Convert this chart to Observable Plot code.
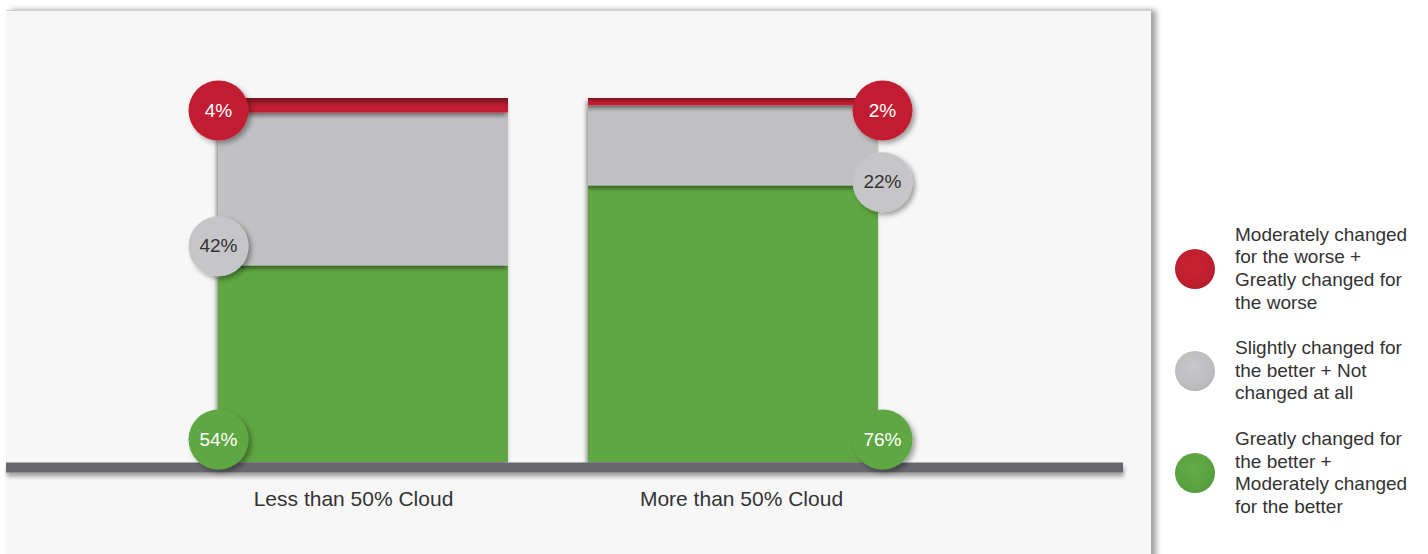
<!DOCTYPE html>
<html>
<head>
<meta charset="utf-8">
<script src="https://cdn.jsdelivr.net/npm/d3@7"></script>
<script src="https://cdn.jsdelivr.net/npm/@observablehq/plot@0.6"></script>
<style>
html, body { margin: 0; padding: 0; background: #ffffff; width: 1428px; height: 554px; overflow: hidden;
  font-family: "Liberation Sans", Arial, Helvetica, sans-serif; }
#wrap { position: relative; width: 1428px; height: 554px; }
#panel { position: absolute; left: 6px; top: 10px; width: 1145px; height: 570px; background: #f7f7f7;
  border-top: 1px solid #d2d2d2; box-shadow: 5px 0 6px rgba(0,0,0,0.38); }
#chart { position: absolute; left: 0; top: 0; }
#legend { position: absolute; left: 1175px; top: 223.5px; display: flex; flex-direction: column; gap: 22.7px; }
.item { display: flex; align-items: center; }
.sw { width: 40px; height: 40px; border-radius: 50%; flex: none; }
.lab { margin-left: 20px; width: 184px; font-size: 19px; line-height: 22.7px; color: #333; }
svg g[aria-label="bar"] rect { filter: url(#shBar); }
svg g[aria-label="dot"] circle { filter: url(#shDot); }
svg g[aria-label="rule"] line { filter: url(#shRule); }
</style>
</head>
<body>
<svg width="0" height="0" style="position:absolute">
  <defs>
    <linearGradient id="redGrad" x1="0" y1="0" x2="0" y2="1">
      <stop offset="0" stop-color="#761420"/>
      <stop offset="0.6" stop-color="#bf1f31"/>
      <stop offset="1" stop-color="#c21f33"/>
    </linearGradient>
    <filter id="shBar" filterUnits="userSpaceOnUse" x="-200" y="-200" width="1900" height="1000">
      <feDropShadow dx="-1.5" dy="3" stdDeviation="2" flood-color="#000" flood-opacity="0.45"/>
    </filter>
    <filter id="shDot" filterUnits="userSpaceOnUse" x="-200" y="-200" width="1900" height="1000">
      <feDropShadow dx="3" dy="3" stdDeviation="2.5" flood-color="#000" flood-opacity="0.35"/>
    </filter>
    <filter id="shRule" filterUnits="userSpaceOnUse" x="-200" y="-200" width="1900" height="1000">
      <feDropShadow dx="1" dy="4" stdDeviation="2" flood-color="#000" flood-opacity="0.35"/>
    </filter>
  </defs>
</svg>
<div id="wrap">
  <div id="panel"></div>
  <div id="chart"></div>
  <div id="legend"></div>
</div>
<script>
// ---- data ----
const categories = ["Less than 50% Cloud", "More than 50% Cloud"];
const seriesNames = [
  "Greatly changed for the better + Moderately changed for the better",
  "Slightly changed for the better + Not changed at all",
  "Moderately changed for the worse + Greatly changed for the worse"
];
const better = [54, 76];
const neutral = [42, 22];
const worse = [4, 2];
const valueLabels = { better: ["54%", "76%"], neutral: ["42%", "22%"], worse: ["4%", "2%"] };

// ---- styles ----
const barColors = ["#5ea743", "#c1c1c3", "url(#redGrad)"];
const dotColors = ["#5ea743", "#c6c6c8", "#c21f33"];
const textColors = ["#ffffff", "#333333", "#ffffff"];
const legendBg = [
  "radial-gradient(circle at 45% 40%, #63ab48 0%, #5aa140 60%, #4a8c35 100%)",
  "radial-gradient(circle at 45% 40%, #c8c8ca 0%, #bdbdbf 60%, #a6a6a8 100%)",
  "radial-gradient(circle at 45% 40%, #c9222f 0%, #bd1e30 60%, #9f1726 100%)"
];

// ---- tables ----
const rows = categories.flatMap((c, i) => [
  { cat: c, series: seriesNames[0], value: better[i] },
  { cat: c, series: seriesNames[1], value: neutral[i] },
  { cat: c, series: seriesNames[2], value: worse[i] }
]);
const total = categories.map((c, i) => better[i] + neutral[i] + worse[i]);
const labels = categories.flatMap((c, i) => [
  { cat: c, k: 0, y: 0, dy: -23, text: valueLabels.better[i] },
  { cat: c, k: 1, y: better[i] + neutral[i] * 0.22, dy: 14, text: valueLabels.neutral[i] },
  { cat: c, k: 2, y: total[i], dy: 12, text: valueLabels.worse[i] }
]);

function labelMarks(cat, dx) {
  const d = labels.filter(l => l.cat === cat);
  const out = [];
  for (const dyv of [...new Set(d.map(l => l.dy))]) {
    const s = d.filter(l => l.dy === dyv);
    out.push(Plot.dot(s, { x: "cat", y: "y", dx, dy: dyv, r: 30, fill: l => dotColors[l.k], stroke: "none" }));
    out.push(Plot.text(s, { x: "cat", y: "y", dx, dy: dyv, text: "text", fill: l => textColors[l.k],
      fontSize: 19, fontFamily: "Liberation Sans, Arial, sans-serif" }));
  }
  return out;
}

const chart = Plot.plot({
  width: 1428,
  height: 554,
  marginLeft: 6,
  marginRight: 305,
  marginTop: 98,
  marginBottom: 92,
  style: { background: "transparent", overflow: "visible", fontFamily: "Liberation Sans, Arial, sans-serif" },
  x: { domain: categories, range: [218, 879], paddingInner: 80 / 370.5, paddingOuter: 0, axis: null },
  y: { domain: [0, 100], axis: null },
  color: { domain: seriesNames, range: barColors },
  marks: [
    Plot.barY(rows, { x: "cat", y: "value", fill: "series" }),
    Plot.ruleY([0], { stroke: "#68666e", strokeWidth: 10, dy: 5 }),
    ...labelMarks(categories[0], -145),
    ...labelMarks(categories[1], 149),
    Plot.text([categories[0]], { x: d => d, y: () => 0, text: d => d, dy: 37, dx: -10, fontSize: 21, fill: "#333" }),
    Plot.text([categories[1]], { x: d => d, y: () => 0, text: d => d, dy: 37, dx: 8, fontSize: 21, fill: "#333" })
  ]
});
document.getElementById("chart").appendChild(chart);

// ---- legend (top to bottom: worse, neutral, better) ----
const legend = document.getElementById("legend");
[2, 1, 0].forEach(k => {
  const item = document.createElement("div");
  item.className = "item";
  const sw = document.createElement("div");
  sw.className = "sw";
  sw.style.background = legendBg[k];
  const lab = document.createElement("div");
  lab.className = "lab";
  lab.textContent = seriesNames[k];
  item.appendChild(sw);
  item.appendChild(lab);
  legend.appendChild(item);
});
</script>
</body>
</html>
